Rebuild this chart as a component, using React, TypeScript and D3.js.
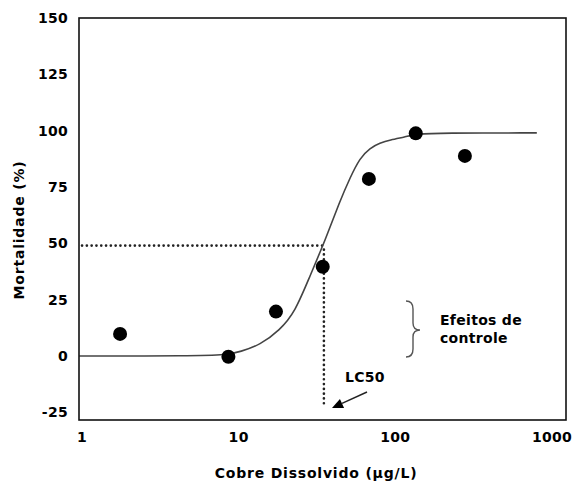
import React from "react";
import * as d3 from "d3";

const obsX = [1.75, 8.6, 17.3, 34.4, 67.8, 135, 278];
const obsY = [9.8, -0.3, 19.7, 39.6, 78.6, 98.8, 88.8];

const curveX = [0.96, 5, 8.5, 10.2, 13.7, 18.3, 22.9, 28.5, 35.5, 44.3, 51.3, 59.4, 68.9, 79.8, 92.4, 115, 137, 193, 800];
const curveY = [0, 0, 0.5, 1.9, 4.9, 11.5, 19.5, 35.5, 51, 68.8, 79, 87.9, 92.3, 94.5, 95.9, 97.2, 98.5, 99, 99];

const xTicks = [1, 10, 100, 1000];
const yTicks = [-25, 0, 25, 50, 75, 100, 125, 150];

const lc50X = 35;
const lc50Y = 49;
const lc50Bottom = -22;

const W = 574;
const H = 484;
const left = 79, right = 566, top = 18, bottom = 420;

export default function App() {
  const x = d3.scaleLog().domain([1, 1000]).range([82, 552]);
  const y = d3.scaleLinear().domain([-28.4, 150]).range([bottom, top]);

  const line = d3
    .line<number>()
    .x((_, i) => x(curveX[i]))
    .y((d) => y(d))
    .curve(d3.curveBasis);

  const font = "'DejaVu Sans', Verdana, sans-serif";

  const ax0 = 367, ay0 = 392, ax1 = 332, ay1 = 408;
  const ang = Math.atan2(ay1 - ay0, ax1 - ax0);
  const hl = 11, hw = 5;
  const bx = ax1 - hl * Math.cos(ang), by = ay1 - hl * Math.sin(ang);
  const px = -Math.sin(ang), py = Math.cos(ang);

  return (
    <svg
      width={W}
      height={H}
      style={{ position: "absolute", left: 0, top: 0, background: "#fff" }}
      fontFamily={font}
      fontWeight="bold"
    >
      <rect x={0} y={0} width={W} height={H} fill="#fff" />
      {/* dotted guide lines */}
      <line
        x1={left + 3}
        x2={x(lc50X)}
        y1={y(lc50Y)}
        y2={y(lc50Y)}
        stroke="#222"
        strokeWidth={2.6}
        strokeLinecap="round"
        strokeDasharray="0.1,4.7"
      />
      <line
        x1={x(lc50X)}
        x2={x(lc50X)}
        y1={y(lc50Y) + 4}
        y2={y(lc50Bottom)}
        stroke="#222"
        strokeWidth={2.6}
        strokeLinecap="round"
        strokeDasharray="0.1,4.7"
      />
      {/* fitted curve */}
      <path d={line(curveY) || ""} fill="none" stroke="#444" strokeWidth={1.6} />
      {/* points */}
      {obsX.map((v, i) => (
        <circle key={i} cx={x(v)} cy={y(obsY[i])} r={7} fill="#000" />
      ))}
      {/* frame */}
      <rect
        x={left}
        y={top}
        width={right - left}
        height={bottom - top}
        fill="none"
        stroke="#111"
        strokeWidth={1.6}
      />
      {/* y tick labels */}
      {yTicks.map((t) => (
        <text
          key={t}
          x={68}
          y={y(t)}
          dy="0.36em"
          textAnchor="end"
          fontSize={14}
          letterSpacing={0.3}
        >
          {t}
        </text>
      ))}
      {/* x tick labels */}
      {xTicks.map((t) => (
        <text
          key={t}
          x={x(t)}
          y={442}
          textAnchor="middle"
          fontSize={14}
          letterSpacing={0.3}
        >
          {t}
        </text>
      ))}
      {/* axis titles */}
      <text
        x={316}
        y={478}
        textAnchor="middle"
        fontSize={14}
        letterSpacing={0.8}
      >
        Cobre Dissolvido (µg/L)
      </text>
      <text
        transform={`translate(24,230) rotate(-90)`}
        textAnchor="middle"
        fontSize={14}
        letterSpacing={0.8}
      >
        Mortalidade (%)
      </text>
      {/* brace */}
      <path
        d="M406,301 Q413,301 413,309 L413,323 Q413,330 420,330 Q413,330 413,337 L413,349 Q413,357 406,357"
        fill="none"
        stroke="#555"
        strokeWidth={1.4}
      />
      <text x={440} y={325} fontSize={14} letterSpacing={0.3}>
        Efeitos de
      </text>
      <text x={440} y={343} fontSize={14} letterSpacing={0.3}>
        controle
      </text>
      {/* LC50 label and arrow */}
      <text x={345} y={382} fontSize={14} letterSpacing={0.3}>
        LC50
      </text>
      <line x1={ax0} y1={ay0} x2={bx} y2={by} stroke="#222" strokeWidth={1.5} />
      <path
        d={`M${ax1},${ay1} L${bx + px * hw},${by + py * hw} L${bx - px * hw},${by - py * hw} Z`}
        fill="#000"
      />
    </svg>
  );
}
